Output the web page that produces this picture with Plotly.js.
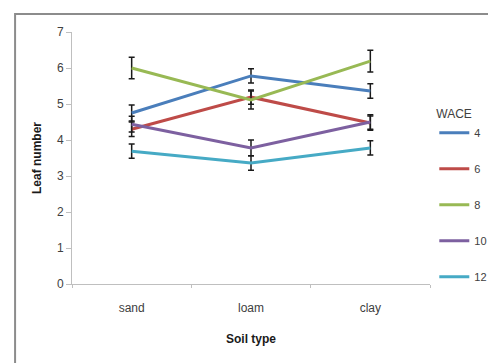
<!DOCTYPE html>
<html>
<head>
<meta charset="utf-8">
<script src="https://cdn.plot.ly/plotly-3.0.1.min.js"></script>
<style>
  html, body { margin: 0; padding: 0; background: #fff; }
  #chart { width: 488px; height: 363px; }
</style>
</head>
<body>
<div id="chart"></div>
<script>
// Soil types on the x axis
const soilTypes = ["sand", "loam", "clay"];

// Leaf number per WACE level
const wace4  = [4.75, 5.78, 5.36];
const wace6  = [4.30, 5.19, 4.47];
const wace8  = [6.00, 5.11, 6.19];
const wace10 = [4.44, 3.78, 4.50];
const wace12 = [3.69, 3.36, 3.78];

// Standard errors
const err4  = [0.22, 0.20, 0.20];
const err6  = [0.20, 0.20, 0.20];
const err8  = [0.30, 0.25, 0.30];
const err10 = [0.22, 0.22, 0.20];
const err12 = [0.20, 0.20, 0.20];

const seriesNames = ["4", "6", "8", "10", "12"];
const seriesValues = [wace4, wace6, wace8, wace10, wace12];
const seriesErrors = [err4, err6, err8, err10, err12];
const seriesColors = ["#4a7ebb", "#be4b48", "#98b954", "#7d60a0", "#46aac5"];

const font = "'Liberation Sans Narrow', 'Liberation Sans', Arial, sans-serif";

const traces = seriesNames.map((name, i) => ({
  type: "scatter",
  mode: "lines",
  name: name,
  legendgroup: "g" + i,
  x: soilTypes,
  y: seriesValues[i],
  line: { color: seriesColors[i], width: 3 },
  error_y: {
    type: "data",
    array: seriesErrors[i],
    visible: true,
    color: "#1a1a1a",
    thickness: 1.5,
    width: 3
  }
}));

const layout = {
  width: 488,
  height: 363,
  margin: { l: 72, r: 58, t: 32, b: 79, autoexpand: false },
  paper_bgcolor: "#ffffff",
  plot_bgcolor: "#ffffff",
  font: { family: font, size: 12, color: "#404040" },
  showlegend: true,
  legend: {
    x: 1.012, xanchor: "left",
    y: 0.72, yanchor: "top",
    title: { text: "WACE", font: { size: 12, color: "#404040" }, side: "top" },
    font: { size: 11, color: "#404040" },
    tracegroupgap: 17,
    itemwidth: 30,
    bgcolor: "rgba(0,0,0,0)"
  },
  xaxis: {
    type: "category",
    range: [-0.5, 2.5],
    showgrid: false,
    zeroline: false,
    showline: true,
    linecolor: "#bfbfbf",
    linewidth: 1,
    ticks: "outside",
    tickson: "boundaries",
    ticklen: 3,
    tickcolor: "#bfbfbf",
    ticklabelstandoff: 13,
    tickfont: { size: 12, color: "#404040" },
    title: { text: "<b>Soil type</b>", font: { size: 12, color: "#1a1a1a" }, standoff: 20 },
    automargin: false,
    fixedrange: true
  },
  yaxis: {
    range: [0, 7],
    dtick: 1,
    showgrid: false,
    zeroline: false,
    showline: true,
    linecolor: "#bfbfbf",
    linewidth: 1,
    ticks: "outside",
    ticklen: 5,
    tickcolor: "#bfbfbf",
    tickfont: { size: 12, color: "#404040" },
    title: { text: "<b>Leaf number</b>", font: { size: 12, color: "#1a1a1a" }, standoff: 12 },
    automargin: false,
    fixedrange: true
  },
  shapes: [{
    type: "rect",
    xref: "paper", yref: "paper",
    x0: -0.159, x1: 1.4, y0: -0.6, y1: 1.071,
    line: { color: "#8c8c8c", width: 2 },
    fillcolor: "rgba(0,0,0,0)",
    layer: "below"
  }]
};

Plotly.newPlot("chart", traces, layout, { displayModeBar: false, staticPlot: true });
</script>
</body>
</html>
